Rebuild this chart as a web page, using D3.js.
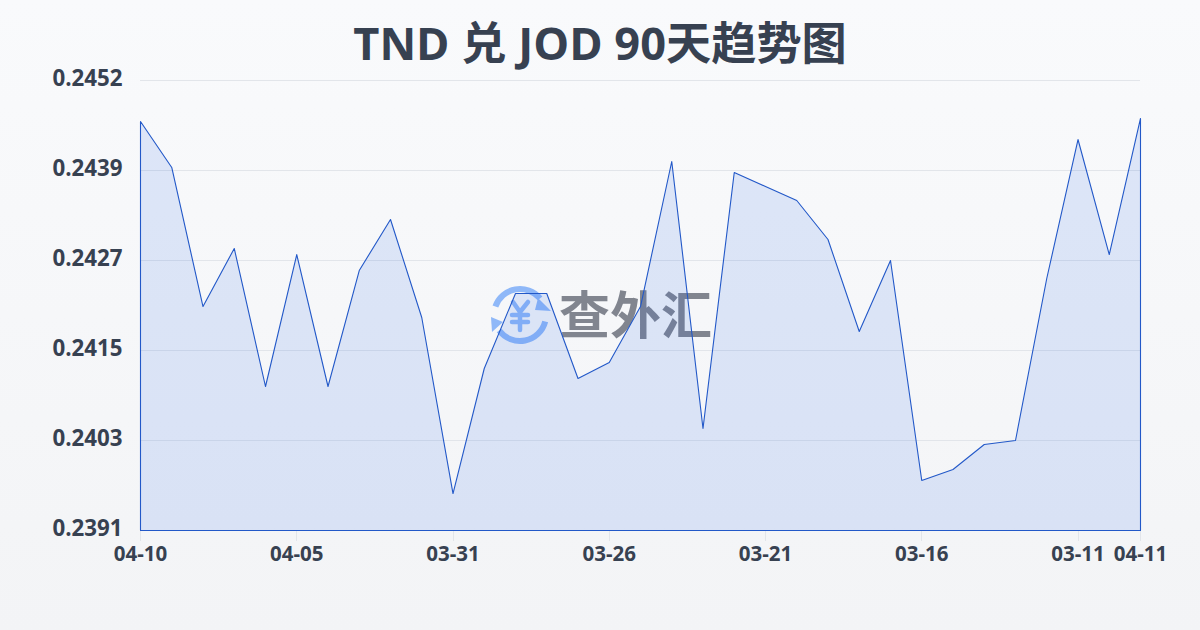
<!DOCTYPE html>
<html><head><meta charset="utf-8">
<script src="https://cdn.jsdelivr.net/npm/d3@7"></script>
<style>html,body{margin:0;padding:0;width:1200px;height:630px;overflow:hidden}svg{display:block}</style>
</head><body><svg id="c" width="1200" height="630"></svg>
<script>
const titleText = "TND 兑 JOD 90天趋势图";
const categories = ["04-10","04-09","04-08","04-07","04-06","04-05","04-04","04-03","04-02","04-01","03-31","03-30","03-29","03-28","03-27","03-26","03-25","03-24","03-23","03-22","03-21","03-20","03-19","03-18","03-17","03-16","03-15","03-14","03-13","03-12","03-11","03-10","04-11"];
const values = [0.244644,0.244021,0.242136,0.242923,0.241052,0.242841,0.241052,0.242624,0.243316,0.241987,0.239601,0.241296,0.242313,0.242313,0.241160,0.241377,0.242136,0.244102,0.240483,0.243953,0.243763,0.243573,0.243045,0.241797,0.242760,0.239778,0.239927,0.240266,0.240320,0.242516,0.244400,0.242841,0.244685];
const xTickLabels = ["04-10","04-05","03-31","03-26","03-21","03-16","03-11","04-11"];
const yTickValues = [0.2391,0.24032,0.24154,0.24276,0.24398,0.2452];
const yTickLabels = ["0.2391","0.2403","0.2415","0.2427","0.2439","0.2452"];

const svg = d3.select("#c");
const defs = svg.append("defs");
const bg = defs.append("linearGradient").attr("id","bg").attr("x1",0).attr("y1",0).attr("x2",0).attr("y2",1);
bg.append("stop").attr("offset","0").attr("stop-color","#f9fafc");
bg.append("stop").attr("offset","1").attr("stop-color","#f3f4f6");
svg.append("rect").attr("width",1200).attr("height",630).attr("fill","url(#bg)");

const x = d3.scalePoint().domain(categories).range([140.5,1140.5]);
const y = d3.scaleLinear().domain([0.2391,0.2452]).range([530.5,80.5]);
const sans = "'Open Sans','Noto Sans',sans-serif";

svg.append("text").attr("x",600).attr("y",60).attr("text-anchor","middle")
  .attr("font-family","'Open Sans','Noto Sans CJK SC',sans-serif").attr("font-weight",700)
  .attr("font-size",45.2).attr("fill","#374151").text(titleText);

// grid
svg.append("g").selectAll("line").data(yTickValues.slice(1)).join("line")
  .attr("x1",140).attr("x2",1140).attr("y1",d=>Math.floor(y(d))+0.5).attr("y2",d=>Math.floor(y(d))+0.5)
  .attr("stroke","#e2e5ea").attr("stroke-width",1);

// watermark
const wm = svg.append("g");
const cx=520, cy=315, r=26;
const blue="#8fb8f8";
const arcG = d3.arc().innerRadius(r-3).outerRadius(r+3);
wm.append("path").attr("transform",`translate(${cx},${cy})`).attr("fill",blue)
  .attr("d",arcG({startAngle:-1.24,endAngle:0.88}));
wm.append("path").attr("transform",`translate(${cx},${cy})`).attr("fill",blue)
  .attr("d",arcG({startAngle:1.82,endAngle:4.07}));
const tri = d3.line();
wm.append("path").attr("fill",blue).attr("d",tri([[538,298],[551,311],[535,310]])+"Z");
wm.append("path").attr("fill",blue).attr("d",tri([[491,317],[503,322],[492,332]])+"Z");
const yen = [[[513,302],[520,312],[528,302]],[[512,315],[528,315]],[[512,322],[528,322]],[[520,312],[520,330]]];
wm.append("g").selectAll("path").data(yen).join("path").attr("d",d=>tri(d)).attr("fill","none")
  .attr("stroke",blue).attr("stroke-width",4.5).attr("stroke-linecap","round").attr("stroke-linejoin","round");
wm.append("text").attr("x",559).attr("y",334).attr("font-family","'Noto Sans CJK SC',sans-serif")
  .attr("font-weight",700).attr("font-size",51).attr("fill","#81858f").text("查外汇");

// area
const area = d3.area().x((d,i)=>x(categories[i])).y0(y(0.2391)).y1(d=>y(d));
svg.append("path").datum(values).attr("d",area).attr("fill","#2563eb").attr("fill-opacity",0.13)
  .attr("stroke","#2258c8").attr("stroke-width",1.1).attr("stroke-linejoin","round");

// x ticks
const tickCats = xTickLabels;
svg.append("g").selectAll("line").data(tickCats).join("line")
  .attr("x1",d=>Math.floor(x(d))+0.5).attr("x2",d=>Math.floor(x(d))+0.5).attr("y1",531).attr("y2",541)
  .attr("stroke","#e2e5ea");
svg.append("g").selectAll("text").data(tickCats).join("text")
  .attr("x",d=>x(d)).attr("y",560.5).attr("text-anchor","middle")
  .attr("font-family",sans).attr("font-weight",700).attr("font-size",20.5).attr("fill","#374151").text(d=>d);

// y labels
svg.append("g").selectAll("text").data(yTickValues).join("text")
  .attr("x",122.5).attr("y",d=>y(d)+5.5).attr("text-anchor","end")
  .attr("font-family",sans).attr("font-weight",700).attr("font-size",22.3).attr("fill","#374151")
  .text((d,i)=>yTickLabels[i]);
</script></body></html>
